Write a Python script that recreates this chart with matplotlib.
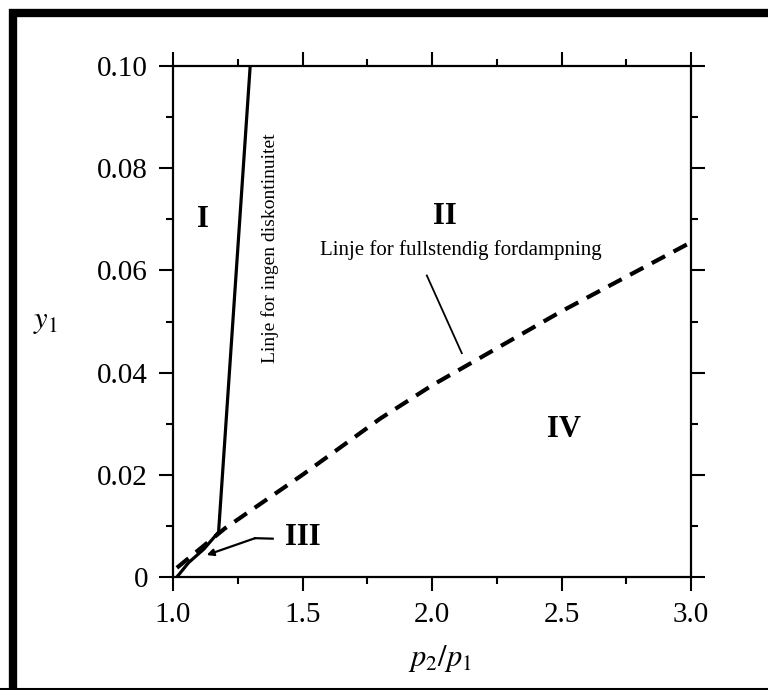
import matplotlib
matplotlib.use("Agg")
import matplotlib.pyplot as plt
from matplotlib.patches import Rectangle

# solid line: "no discontinuity" boundary
solid_x = [1.015, 1.06, 1.12, 1.176, 1.298]
solid_y = [0.0, 0.0028, 0.0055, 0.0088, 0.100]

# dashed line: complete evaporation
dash_x = [1.015, 1.2, 1.5, 1.8, 2.0, 2.5, 3.0]
dash_y = [0.0018, 0.0095, 0.020, 0.031, 0.0375, 0.052, 0.0655]

# region labels
region_names = ["I", "II", "III", "IV"]
region_x = [1.116, 2.05, 1.50, 2.51]
region_y = [0.070, 0.0705, 0.0078, 0.0288]

x_ticks = [1.0, 1.5, 2.0, 2.5, 3.0]
x_ticklabels = ["1.0", "1.5", "2.0", "2.5", "3.0"]
y_ticks = [0, 0.02, 0.04, 0.06, 0.08, 0.10]
y_ticklabels = ["0", "0.02", "0.04", "0.06", "0.08", "0.10"]

plt.rcParams['font.family'] = ['Liberation Serif', 'DejaVu Serif']
plt.rcParams['mathtext.fontset'] = 'stix'

fig = plt.figure(figsize=(7.68, 6.9), dpi=100)
ax = fig.add_axes([173 / 768, 113 / 690, 518 / 768, 511 / 690])

ax.plot(solid_x, solid_y, color='black', lw=2.3, solid_capstyle='butt')
ax.plot(dash_x, dash_y, color='black', lw=3.0, ls=(0, (3.6, 2.3)))

# region labels
for name, x, y in zip(region_names, region_x, region_y):
    ax.text(x, y, name, fontsize=22, fontweight='bold', ha='center', va='center')

# line labels
ax.text(2.11, 0.064, "Linje for fullstendig fordampning", fontsize=15,
        ha='center', va='center')
ax.plot([1.98, 2.115], [0.059, 0.0438], color='black', lw=1.3)
ax.text(1.375, 0.0644, "Linje for ingen diskontinuitet", fontsize=14,
        rotation=90, ha='center', va='center')

# leader for region III
ax.plot([1.385, 1.317], [0.0075, 0.0076], color='black', lw=1.6)
ax.annotate('', xy=(1.13, 0.0043), xytext=(1.317, 0.0076),
            arrowprops=dict(arrowstyle='-|>', lw=1.6, color='black',
                            mutation_scale=10, shrinkA=0, shrinkB=0))

ax.set_xlim(1.0, 3.0)
ax.set_ylim(0, 0.10)
ax.set_xticks(x_ticks)
ax.set_xticklabels(x_ticklabels)
ax.set_yticks(y_ticks)
ax.set_yticklabels(y_ticklabels)
ax.set_xticks([1.25, 1.75, 2.25, 2.75], minor=True)
ax.set_yticks([0.01, 0.03, 0.05, 0.07, 0.09], minor=True)
ax.tick_params(which='both', direction='out', top=True, right=True,
               width=1.5, labelsize=21, pad=8)
ax.tick_params(which='major', length=10)
ax.tick_params(which='minor', length=5)
for s in ax.spines.values():
    s.set_linewidth(1.6)

fig.text(45 / 768, 1 - 322 / 690, r"$y_1$", fontsize=22, ha='center', va='center')
fig.text(440 / 768, 1 - 658 / 690, r"$p_2/p_1$", fontsize=22, ha='center', va='center')

# black frame around the scan
fig.patches.append(Rectangle((13 / 768, -0.01), 2, 1 - 13 / 690 + 0.01,
                             transform=fig.transFigure, fill=False,
                             edgecolor='black', lw=6, zorder=10))
fig.patches.append(Rectangle((0, 1 / 690), 1, 0, transform=fig.transFigure,
                             fill=False, edgecolor='black', lw=1.5, zorder=10))

fig.savefig("out.png", dpi=100)
